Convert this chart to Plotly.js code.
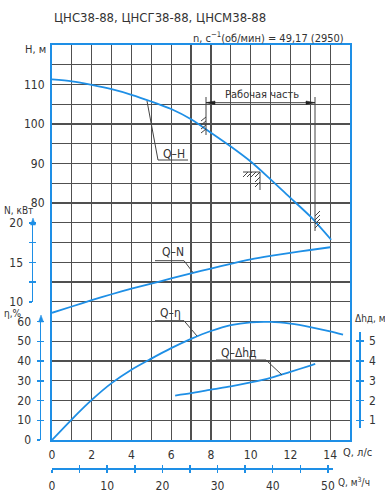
<!DOCTYPE html>
<html><head><meta charset="utf-8">
<script src="https://cdn.plot.ly/plotly-3.0.1.min.js"></script>
<style>html,body{margin:0;padding:0;background:#fff}</style>
</head><body><div id="chart" style="width:385px;height:500px"></div>
<script>
// ---- data ----
const Q_H = [0,1,2,3,4,5,6,7,8,9,10,11,12,13,14.05];
const H = [111.3,110.8,109.9,108.8,107.4,105.7,103.8,101.2,97.8,94.3,90.5,86.0,81.3,76.6,70.7];
const Q_N = [0,1,2,3,4,5,6,7,8,9,10,11,12,13,14];
const N = [8.6,9.4,10.2,10.95,11.65,12.3,12.95,13.6,14.2,14.8,15.35,15.8,16.2,16.55,16.9];
const Q_ETA = [0,1,2,3,4,5,6,7,8,9,10,11,12,13,14,14.65];
const ETA = [0,10.5,20.3,28.8,35.6,41.2,46.5,51.2,55.2,58.2,59.6,59.8,58.9,57.2,55.0,53.3];
const Q_DH = [6.2,7,8,9,10,11,12,13,13.25];
const DH = [2.25,2.37,2.55,2.72,2.92,3.15,3.45,3.77,3.85];

const X_TICKS = [0,1,2,3,4,5,6,7,8,9,10,11,12,13,14,15];
const X_LABELS = ['0','','2','','4','','6','','8','','10','','12','','14',''];
const H_TICKS = [20,25,30,35,40,45,50,55,60,65,70,75,80,85,90,95,100,105,110,115,120];
const H_LABELS = ['','','','','','','','','','','','','80','','90','','100','','110','',''];
const N_TICKS = [10,12.5,15,17.5,20];
const N_LABELS = ['10','','15','','20'];
const ETA_TICKS = [0,10,20,30,40,50,60];
const ETA_LABELS = ['0','10','20','30','40','50','60'];
const DH_TICKS = [1,2,3,4,5];
const DH_LABELS = ['1','2','3','4','5'];
const QM3_TICKS = [0,5,10,15,20,25,30,35,40,45,50];
const QM3_LABELS = ['0','','10','','20','','30','','40','','50'];

// ---- styling ----
const W = 385, HT = 500;
const BLUE = '#1e8fe6', GRID = '#505050', TXT = '#333333', INK = '#444444';
const FONT = 'Liberation Sans Narrow, DejaVu Sans Condensed, sans-serif';
const px = v => v / W, py = v => 1 - v / HT;

function curve(x, y, ya) {
  return {x: x, y: y, yaxis: ya, type: 'scatter', mode: 'lines',
    line: {color: BLUE, width: 1.8, shape: 'spline', smoothing: 0.8}, hoverinfo: 'skip'};
}
function holder(xa, ya) {
  return {x: [], y: [], xaxis: xa, yaxis: ya, type: 'scatter', mode: 'lines', hoverinfo: 'skip'};
}
const data = [curve(Q_H, H, 'y'), curve(Q_N, N, 'y2'), curve(Q_ETA, ETA, 'y3'), curve(Q_DH, DH, 'y4'),
  holder('x4', 'y5'), holder('x4', 'y6'), holder('x5', 'y7'), holder('x5', 'y8'), holder('x6', 'y9'), holder('x6', 'y10'),
  holder('x2', 'y11'), holder('x3', 'y11')];

const tf = {family: FONT, size: 12, color: TXT};
function deco(dom, rng, anchor, side, tv, tt, inside) {
  return {domain: dom, range: rng, anchor: anchor, side: side,
    showline: !inside, linecolor: BLUE, linewidth: 1.5,
    ticks: inside ? 'inside' : 'outside', ticklen: 3, tickcolor: BLUE, tickwidth: 1.5,
    tickmode: 'array', tickvals: tv, ticktext: tt, showticklabels: !inside,
    ticklabelstandoff: 3, tickfont: tf, showgrid: false, zeroline: false, fixedrange: true};
}
function hidden(dom, anchor) {
  return {domain: dom, range: [0, 1], anchor: anchor, visible: false, showgrid: false, zeroline: false, fixedrange: true};
}
const nDom = [py(302), py(221)], nRng = [10, 20.25];
const eDom = [py(440), py(318)], eRng = [0, 61.8];
const dDom = [py(428), py(332)], dRng = [0.608, 5.468];
const qDom = [px(52), px(333)], qRng = [0, 50.92];

function L(x0, y0, x1, y1, c, w) {
  return {type: 'line', xref: 'paper', yref: 'paper', x0: px(x0), y0: py(y0), x1: px(x1), y1: py(y1),
    line: {color: c || INK, width: w || 1}};
}
function TRI(pts, c) {
  const d = 'M' + pts.map(p => px(p[0]) + ',' + py(p[1])).join(' L') + ' Z';
  return {type: 'path', xref: 'paper', yref: 'paper', path: d, fillcolor: c, line: {color: c, width: 0.5}};
}
const shapes = [
  L(158,160,188,160), L(158,160,147,101),
  L(155,260.7,184,260.7), L(184,260.7,193,272.5),
  L(155,320.7,184,320.7), L(184,320.7,197,336),
  L(216,360,266,360), L(266,360,282,375),
  L(206,97,206,135), L(315,97,315,231), L(206,102.7,315,102.7),
  TRI([[206,102.7],[215,101],[215,104.4]], '#222'), TRI([[315,102.7],[306,101],[306,104.4]], '#222'),
  TRI([[41,315],[38.5,322],[43.5,322]], BLUE), TRI([[33,218],[30.5,225],[35.5,225]], BLUE),
  L(206,117,201,121), L(206,121,201,125), L(206,125,201,129), L(206,129,201,133),
  L(243,172,260,172), L(260,172,260,190),
  L(248,172,243,177), L(252,172,247,177), L(256,172,251,177), L(260,172,255,177),
  L(260,177,255,182), L(260,182,255,187),
  L(320,211,315,216), L(320,215,315,220), L(320,219,315,224), L(320,223,315,228)
];

function T(text, x, y, xa, size) {
  return {text: text, xref: 'paper', yref: 'paper', x: px(x), y: py(y), xanchor: xa || 'left',
    yanchor: 'middle', showarrow: false, font: {family: FONT, size: size || 12, color: TXT}};
}
const annotations = [
  T('ЦНС38-88, ЦНСГ38-88, ЦНСМ38-88', 52, 17, 'left', 13),
  T('n, с<sup>−1</sup>(об/мин) = 49,17 (2950)', 346, 38, 'right', 11),
  T('H, м', 48, 50, 'right', 11),
  T('N, кВт', 35, 211, 'right', 10),
  T('η,%', 2, 313, 'left', 10),
  T('Δhд, м', 353, 318, 'left', 10),
  T('Q, л/с', 341, 452, 'left', 11),
  T('Q, м<sup>3</sup>/ч', 336, 482, 'left', 10),
  T('Q–H', 161, 154, 'left', 12),
  T('Q–N', 160, 252, 'left', 12),
  T('Q–η', 158, 313, 'left', 12),
  T('Q–Δhд', 219, 353, 'left', 12),
  T('Рабочая часть', 262, 95, 'center', 11)
];

const layout = {
  width: W, height: HT, margin: {l: 0, r: 0, t: 0, b: 0},
  paper_bgcolor: '#ffffff', plot_bgcolor: 'rgba(0,0,0,0)', showlegend: false,
  xaxis: {domain: [px(52), px(350)], range: [0, 15], tickmode: 'array', tickvals: X_TICKS, ticktext: X_LABELS,
    showgrid: true, gridcolor: GRID, gridwidth: 1.2, showline: true, linecolor: BLUE, linewidth: 2, mirror: true,
    ticks: '', ticklabelstandoff: 3, zeroline: false, tickfont: tf, fixedrange: true},
  yaxis: {domain: [py(440), py(45)], range: [20, 120], tickmode: 'array', tickvals: H_TICKS, ticktext: H_LABELS,
    showgrid: true, gridcolor: GRID, gridwidth: 1.2, showline: true, linecolor: BLUE, linewidth: 2, mirror: true,
    ticks: '', ticklabelstandoff: 3, zeroline: false, tickfont: tf, fixedrange: true},
  yaxis2: {overlaying: 'y', range: [-7.5, 42.5], visible: false, fixedrange: true},
  yaxis3: {overlaying: 'y', range: [0, 200], visible: false, fixedrange: true},
  yaxis4: {overlaying: 'y', range: [0, 20], visible: false, fixedrange: true},
  xaxis4: hidden([px(33), px(350)], 'y5'),
  xaxis5: hidden([px(41), px(350)], 'y7'),
  xaxis6: hidden([px(52), px(359)], 'y9'),
  yaxis11: hidden([py(468), py(45)], 'x2'),
  yaxis5: deco(nDom, nRng, 'x4', 'left', N_TICKS, N_LABELS, false),
  yaxis6: deco(nDom, nRng, 'x4', 'left', N_TICKS, N_LABELS, true),
  yaxis7: deco(eDom, eRng, 'x5', 'left', ETA_TICKS, ETA_LABELS, false),
  yaxis8: deco(eDom, eRng, 'x5', 'left', ETA_TICKS, ETA_LABELS, true),
  yaxis9: deco(dDom, dRng, 'x6', 'right', DH_TICKS, DH_LABELS, false),
  yaxis10: deco(dDom, dRng, 'x6', 'right', DH_TICKS, DH_LABELS, true),
  xaxis2: deco(qDom, qRng, 'y11', 'bottom', QM3_TICKS, QM3_LABELS, false),
  xaxis3: deco(qDom, qRng, 'y11', 'bottom', QM3_TICKS, QM3_LABELS, true),
  shapes: shapes, annotations: annotations
};
Plotly.newPlot('chart', data, layout, {staticPlot: true, displayModeBar: false});
</script></body></html>
